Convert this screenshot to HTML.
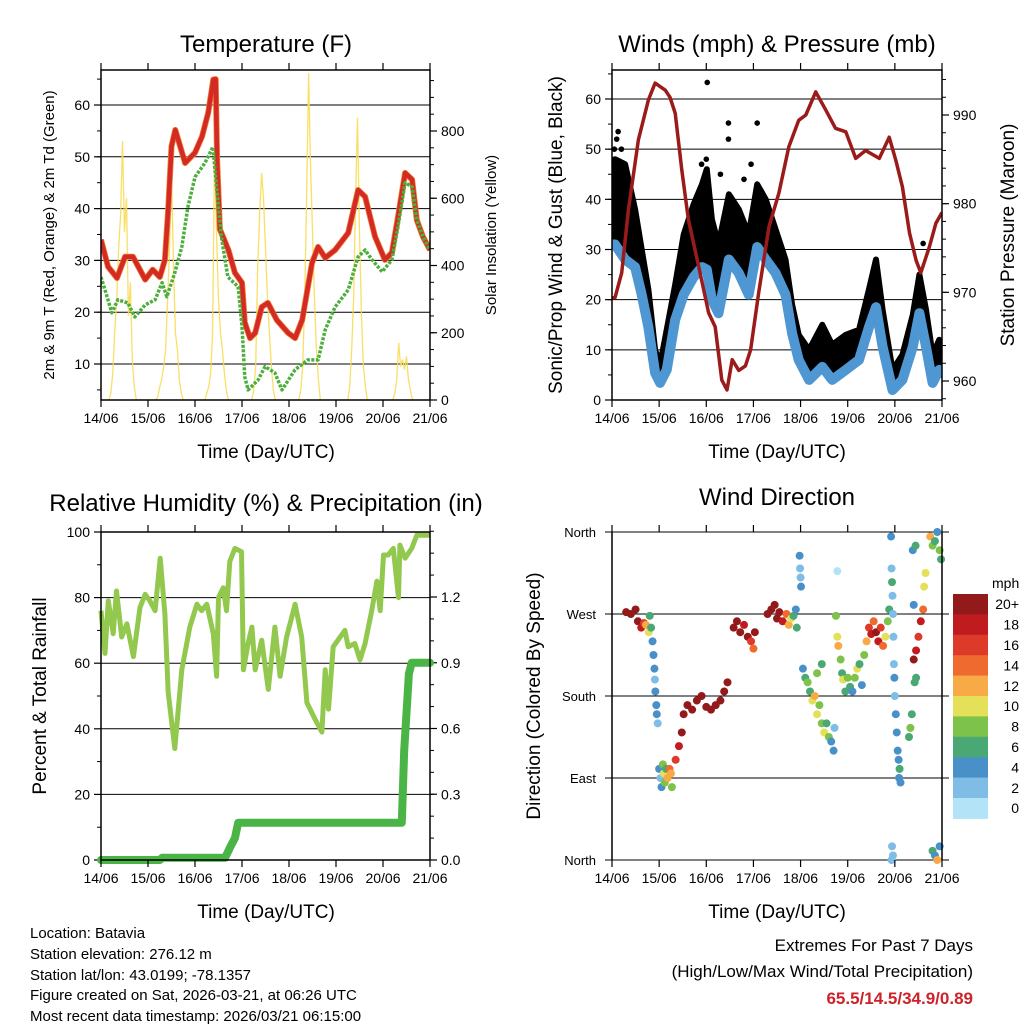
<!DOCTYPE html>
<html><head><meta charset="utf-8">
<style>
html,body{margin:0;padding:0;background:#fff;}
svg{display:block;font-family:"Liberation Sans",Arial,sans-serif;}
</style></head>
<body>
<svg id="fig" width="1024" height="1024" viewBox="0 0 1024 1024" xmlns="http://www.w3.org/2000/svg">
<rect width="1024" height="1024" fill="#fff"/>
<g id="g1"></g>
<g id="g2"></g>
<g id="g3"></g>
<g id="g4"></g>
<text x="266" y="52" font-size="24" text-anchor="middle">Temperature (F)</text>
<text x="777" y="52" font-size="24" text-anchor="middle">Winds (mph) &amp; Pressure (mb)</text>
<text x="266" y="511" font-size="24" text-anchor="middle">Relative Humidity (%) &amp; Precipitation (in)</text>
<text x="777" y="505" font-size="24" text-anchor="middle">Wind Direction</text>
<text x="266" y="458" font-size="19" text-anchor="middle">Time (Day/UTC)</text>
<text x="777" y="458" font-size="19" text-anchor="middle">Time (Day/UTC)</text>
<text x="266" y="918" font-size="19" text-anchor="middle">Time (Day/UTC)</text>
<text x="777" y="918" font-size="19" text-anchor="middle">Time (Day/UTC)</text>
<text transform="translate(54,235) rotate(-90)" font-size="15" text-anchor="middle">2m &amp; 9m T (Red, Orange) &amp; 2m Td (Green)</text>
<text transform="translate(496,235) rotate(-90)" font-size="15" text-anchor="middle">Solar Insolation (Yellow)</text>
<text transform="translate(562,235) rotate(-90)" font-size="19" text-anchor="middle">Sonic/Prop Wind &amp; Gust (Blue, Black)</text>
<text transform="translate(1014,235) rotate(-90)" font-size="19" text-anchor="middle">Station Pressure (Maroon)</text>
<text transform="translate(46,696) rotate(-90)" font-size="19" text-anchor="middle">Percent &amp; Total Rainfall</text>
<text transform="translate(540,696) rotate(-90)" font-size="19" text-anchor="middle">Direction (Colored By Speed)</text>
<g font-size="15">
<text x="30" y="938">Location: Batavia</text>
<text x="30" y="959">Station elevation: 276.12 m</text>
<text x="30" y="980">Station lat/lon: 43.0199; -78.1357</text>
<text x="30" y="1000">Figure created on Sat, 2026-03-21, at 06:26 UTC</text>
<text x="30" y="1021">Most recent data timestamp: 2026/03/21 06:15:00</text>
</g>
<g font-size="17" text-anchor="end">
<text x="973" y="951">Extremes For Past 7 Days</text>
<text x="973" y="977">(High/Low/Max Wind/Total Precipitation)</text>
<text x="973" y="1004" fill="#cc2229" font-weight="bold">65.5/14.5/34.9/0.89</text>
</g>
</svg>
<script>
const dayLabels=["14/06","15/06","16/06","17/06","18/06","19/06","20/06","21/06"];
// Temperature
const tempT=[0,0.15,0.34,0.51,0.68,0.94,1.1,1.25,1.36,1.43,1.5,1.58,1.79,2.0,2.15,2.28,2.39,2.44,2.47,2.53,2.71,2.85,3.0,3.06,3.17,3.28,3.42,3.55,3.74,3.98,4.13,4.28,4.49,4.62,4.77,4.98,5.26,5.47,5.62,5.83,6.04,6.19,6.32,6.47,6.62,6.72,6.85,7.0];
const tempV=[34,28.8,26.6,30.7,30.7,26.3,28.2,26.8,30.1,39.8,52,55.2,48.8,50.8,53.9,58.5,64.9,65,49.4,36,32,27.6,25.7,18,15,16,21,21.8,18.5,16,15,18.5,29.5,32.6,30.5,32,35.3,43.6,42.3,34.6,30.1,31.5,38.4,46.9,45.6,37.8,34.6,32];
const dewT=[0,0.15,0.23,0.36,0.57,0.72,0.94,1.15,1.3,1.4,1.57,1.72,1.85,2.0,2.21,2.38,2.47,2.57,2.7,2.92,3.0,3.06,3.13,3.34,3.49,3.7,3.85,4.13,4.4,4.62,4.77,4.98,5.26,5.47,5.62,5.77,5.98,6.19,6.32,6.47,6.62,6.72,6.85,7.0];
const dewV=[26.8,22.4,19.9,22.4,21.8,19.1,21.4,22.4,25.7,23,27.6,32.6,40.3,46.1,48.8,51.9,43,34,26.8,24.9,17.2,7.5,5,6.9,9.5,8.3,5,8.9,10.8,10.8,16.6,21,24.3,30.7,32,30.1,27.8,30.1,36.5,45,44.2,37.8,34.6,32];
// Solar, hourly per day
const solarDay0=[0,0,0,0,0,20,80,200,300,450,550,770,500,600,250,350,120,40,0,0,0,0,0,0];
const solarDay1=[0,0,0,0,0,10,40,60,100,150,300,450,675,400,200,150,60,20,0,0,0,0,0,0];
const solarDay2=[0,0,0,0,0,0,20,40,80,200,750,500,300,200,150,80,30,0,0,0,0,0,0,0];
const solarDay3=[0,0,0,0,0,0,30,100,400,550,675,600,450,300,200,100,30,0,0,0,0,0,0,0];
const solarDay4=[0,0,0,0,0,0,30,100,300,600,972,700,500,300,150,60,0,0,0,0,0,0,0,0];
const solarDay5=[0,0,0,0,0,0,0,40,150,300,600,840,500,250,100,40,0,0,0,0,0,0,0,0];
const solarDay6=[0,0,0,0,0,0,20,60,170,100,120,90,130,60,30,0,0,0,0,0,0,0,0,0];
// Winds
const windT=[0.0,0.064,0.277,0.49,0.631,0.773,0.915,1.02,1.16,1.34,1.52,1.73,1.91,2.01,2.12,2.26,2.48,2.69,2.9,3.08,3.26,3.47,3.68,3.82,3.96,4.18,4.46,4.67,4.96,5.24,5.45,5.6,5.74,5.95,6.16,6.38,6.52,6.66,6.8,6.94,7.0];
const gustV=[46,48,47,38,30,22,10,7,14,23,33,39,43,46,36,31,41,38,33,43,40,34,28,19,13,10,15,11,13,14,22,28,18,6,9,17,25,18,9,12,10];
const windV=[31,31,28,26.5,21,14.5,5.4,3.4,6,16,21,24.5,26.5,26,20,17.3,28,25.3,21,30.5,28,25.3,21,13.3,8,4,6.6,4,6,8,14.5,18.5,10.6,2,4,10.6,17.3,10.6,3.4,6,5];
const gustOutT=[0.13,2.02,2.47,2.47,3.08,2.0,6.6,0.2,1.9,2.3,2.8,2.95,0.05,0.1];
const gustOutV=[53.5,63.3,55.2,52,55.2,48,31.2,50,47,45,44,47,50,52];
const presT=[0.0,0.064,0.206,0.348,0.56,0.773,0.915,1.13,1.23,1.34,1.48,1.62,1.84,2.05,2.19,2.33,2.44,2.55,2.69,2.83,2.94,3.11,3.33,3.54,3.75,3.96,4.11,4.32,4.53,4.74,4.96,5.17,5.38,5.67,5.88,6.02,6.16,6.31,6.45,6.55,6.73,6.87,7.0];
const presV=[969.4,969.4,972.2,979.3,987.2,991.7,993.6,992.8,992,990.2,983.8,978.2,972.9,967.7,966.1,960.1,959,962.4,961.2,961.7,963.5,969.9,977.4,981.2,986.4,989.4,990,992.6,990.6,988.5,988.1,985.1,986,985.1,987.5,984.9,981.9,976.7,973.6,972.2,975.1,977.8,979];
// Humidity & precipitation
const rhT=[0,0.085,0.156,0.26,0.33,0.44,0.55,0.69,0.83,0.94,1.04,1.15,1.26,1.36,1.43,1.57,1.72,1.89,2.04,2.14,2.25,2.39,2.46,2.5,2.6,2.67,2.74,2.85,2.99,3.03,3.13,3.21,3.28,3.42,3.56,3.7,3.81,3.95,4.13,4.27,4.38,4.55,4.7,4.77,4.84,4.94,5.09,5.19,5.26,5.4,5.51,5.62,5.76,5.87,5.94,6.01,6.11,6.22,6.33,6.36,6.47,6.61,6.72,7.0];
const rhV=[76,63,79,69,82,68,72,62,77,81,79,76,92,75,51,34,58,71,78,76,78,69,56,80,83,76,91,95,94,58,66,71,58,67,52,71,56,68,78,68,48,43,39,58,46,65,68,70,65,66,61,66,76,85,76,93,93,95,80,96,92,95,99,99];
const precT=[0,1.25,1.3,2.64,2.75,2.85,2.92,6.4,6.45,6.55,6.61,7.0];
const precV=[0,0,0.01,0.01,0.06,0.1,0.17,0.17,0.5,0.85,0.9,0.9];
// Wind direction
const dirT=[0.3,0.4,0.5,0.55,0.62,0.68,0.72,0.78,0.8,0.83,0.86,0.88,0.9,0.91,0.92,0.94,0.95,0.97,1.0,1.03,1.05,1.08,1.1,1.12,1.15,1.18,1.22,1.25,1.27,1.35,1.42,1.48,1.52,1.6,1.7,1.8,1.9,2.0,2.1,2.2,2.3,2.38,2.45,2.58,2.65,2.72,2.8,2.88,2.95,3.0,3.03,3.3,3.38,3.45,3.5,3.55,3.62,3.7,3.75,3.8,3.85,3.9,3.92,3.98,3.99,4.0,4.01,4.05,4.1,4.15,4.2,4.25,4.3,4.35,4.4,4.45,4.5,4.55,4.6,4.65,4.7,4.72,4.35,4.45,4.75,4.78,4.8,4.85,4.88,4.9,4.95,4.78,5.0,5.05,5.1,5.15,5.2,5.25,5.3,5.35,5.4,5.45,5.5,5.55,5.6,5.65,5.7,5.75,5.8,5.85,5.88,5.92,5.93,5.94,5.95,5.96,5.97,5.98,5.99,6.0,6.02,6.04,6.06,6.08,6.09,6.1,6.12,5.93,5.94,5.96,6.3,6.33,6.36,6.4,6.45,6.5,6.55,6.6,6.62,6.65,6.45,6.4,6.38,6.42,6.44,6.75,6.8,6.85,6.9,6.95,6.98,6.8,6.85,6.9,6.95];
const dirDeg=[272,270,275,262,255,260,258,250,268,255,240,225,210,198,185,170,160,150,100,90,80,105,95,85,100,90,100,95,80,110,125,140,160,170,165,175,180,168,165,170,175,185,195,255,262,250,258,245,240,232,250,270,275,280,265,272,262,270,258,265,268,275,255,334,320,310,300,210,200,195,185,175,180,160,170,150,140,150,135,130,120,145,205,215,268,245,235,220,205,198,185,317,200,190,185,200,210,215,192,225,240,255,248,262,250,240,255,235,245,262,275,355,320,305,290,270,245,215,200,180,160,140,120,110,90,100,85,0,15,5,135,145,160,220,230,245,262,275,300,315,200,280,340,195,345,355,345,350,360,340,330,10,5,0,15];
const dirSpd=[20,20,20,19,18,16,12,10,6,6,4,4,3,2,4,4,4,2,4,2,4,8,10,8,6,12,14,12,8,16,18,20,20,20,20,20,20,20,20,20,20,20,20,20,20,20,18,20,16,14,20,20,20,20,20,20,18,14,12,10,6,4,6,4,2,2,4,4,6,8,6,10,12,10,8,8,10,6,8,4,4,2,8,6,8,10,12,8,6,10,6,0,8,6,4,8,10,6,4,8,12,16,18,14,20,18,16,14,10,8,6,4,2,6,2,2,2,2,4,2,4,4,4,4,4,6,4,2,2,2,6,8,6,20,18,16,18,14,10,10,6,4,4,6,6,12,8,6,4,8,6,6,4,12,4];
const spdColors=["#b3e3f7","#7fbce6","#4a90c8","#4aa874","#7dc24a","#e5e05a","#f7aa45","#ef6a2e","#dd3a2a","#c01c20","#931a1a"];
const spdLabels=["0","2","4","6","8","10","12","14","16","18","20+"];

const NS="http://www.w3.org/2000/svg";
function mk(parent,tag,attrs){const e=document.createElementNS(NS,tag);for(const k in attrs)e.setAttribute(k,attrs[k]);parent.appendChild(e);return e;}
function lin(d0,d1,r0,r1){return v=>r0+(v-d0)/(d1-d0)*(r1-r0);}
function pts(T,V,sx,sy){return T.map((t,i)=>sx(t).toFixed(1)+","+sy(V[i]).toFixed(1)).join(" ");}

function frame(g,L,R,T,B,sx){
  for(let d=0;d<=7;d++){
    const x=sx(d);
    const tk=mk(g,"line",{x1:x,x2:x,y1:B,y2:B+7,stroke:"#000","stroke-width":1.2});
    
    
    const tk2=mk(g,"line",{x1:x,x2:x,y1:T,y2:T-7,stroke:"#000","stroke-width":1.2});
    
    
    const lb=mk(g,"text",{x:x,y:B+23,"font-size":14,"text-anchor":"middle"});
    lb.textContent=dayLabels[d];
    
    
  }
}
function border(g,L,R,T,B){
  const r=mk(g,"rect",{x:L,y:T,width:R-L,height:B-T,fill:"none",stroke:"#000","stroke-width":1.5});
  
  
}
function yAxis(g,L,R,T,B,sy,ticks,labels,minor,side,grid){
  const x0=side==="left"?L:R, dir=side==="left"?-1:1;
  ticks.forEach((v,i)=>{
    const y=sy(v);
    if(grid){const gl=mk(g,"line",{x1:L,x2:R,y1:y,y2:y,stroke:"#000","stroke-width":1});
      
      }
    mk(g,"line",{x1:x0,x2:x0+dir*7,y1:y,y2:y,stroke:"#000","stroke-width":1.2});
    const t=mk(g,"text",{x:x0+dir*11,y:y+5,"font-size":14,"text-anchor":side==="left"?"end":"start"});
    t.textContent=labels[i];
    
    
  });
  minor.forEach(v=>{const y=sy(v);mk(g,"line",{x1:x0,x2:x0+dir*4,y1:y,y2:y,stroke:"#000","stroke-width":1});});
}
function range(a,b,s){const r=[];for(let v=a;v<=b+1e-9;v+=s)r.push(+v.toFixed(4));return r;}

// Panel 1
(function(){
  const g=document.getElementById("g1"),L=101,R=430,T=70,B=400;
  const sx=lin(0,7,L,R), sy=lin(10,60,364,105), sr=lin(0,800,400,131);
  const clip=mk(g,"clipPath",{id:"c1"});mk(clip,"rect",{x:L,y:T,width:R-L,height:B-T});
  const tks=[10,20,30,40,50,60];
  yAxis(g,L,R,T,B,sy,tks,tks.map(String),range(5,65,5),"left",true);
  yAxis(g,L,R,T,B,sr,[0,200,400,600,800],["0","200","400","600","800"],range(0,950,50),"right",false);
  const solar=[solarDay0,solarDay1,solarDay2,solarDay3,solarDay4,solarDay5,solarDay6].flat();
  const sT=solar.map((v,i)=>i/24);
  const dg=mk(g,"g",{"clip-path":"url(#c1)"});
  const s=mk(dg,"polyline",{points:pts(sT,solar,sx,sr),fill:"none",stroke:"#f7dc55","stroke-width":1.3,"stroke-opacity":0.9});
  
  
  const o=mk(dg,"polyline",{points:pts(tempT,tempV,sx,sy),fill:"none",stroke:"#f08030","stroke-width":6,"stroke-linejoin":"round"});
  
  
  const r=mk(dg,"polyline",{points:pts(tempT,tempV,sx,sy),fill:"none",stroke:"#d42a26","stroke-width":4.5,"stroke-linejoin":"round"});
  
  
  const d=mk(dg,"polyline",{points:pts(dewT,dewV,sx,sy),fill:"none",stroke:"#4caf3c","stroke-width":3.5,"stroke-dasharray":"3 1.5","stroke-linejoin":"round"});
  
  
  frame(g,L,R,T,B,sx);border(g,L,R,T,B);
})();

// Panel 2
(function(){
  const g=document.getElementById("g2"),L=612,R=942,T=70,B=400;
  const sx=lin(0,7,L,R), sy=lin(0,60,400,99), sp=lin(960,990,381,115);
  const clip=mk(g,"clipPath",{id:"c2"});mk(clip,"rect",{x:L,y:T,width:R-L,height:B-T});
  const tks=[0,10,20,30,40,50,60];
  yAxis(g,L,R,T,B,sy,tks,tks.map(String),range(5,65,5),"left",true);
  yAxis(g,L,R,T,B,sp,[960,970,980,990],["960","970","980","990"],range(958,995,2),"right",false);
  const dg=mk(g,"g",{"clip-path":"url(#c2)"});
  const top=windT.map((t,i)=>sx(t).toFixed(1)+","+sy(gustV[i]).toFixed(1));
  const bot=windT.map((t,i)=>sx(t).toFixed(1)+","+sy(windV[i]).toFixed(1)).reverse();
  const gu=mk(dg,"polygon",{points:top.concat(bot).join(" "),fill:"#000",stroke:"#000","stroke-width":6,"stroke-linejoin":"round"});
  
  
  gustOutT.forEach((t,i)=>{const c=mk(dg,"circle",{cx:sx(t),cy:sy(gustOutV[i]),r:2.8,fill:"#000"});
    
    });
  const w=mk(dg,"polyline",{points:pts(windT,windV,sx,sy),fill:"none",stroke:"#4f97d2","stroke-width":10,"stroke-linejoin":"round"});
  
  
  const p=mk(dg,"polyline",{points:pts(presT,presV,sx,sp),fill:"none",stroke:"#9b1b1b","stroke-width":3.5,"stroke-linejoin":"round"});
  
  
  frame(g,L,R,T,B,sx);border(g,L,R,T,B);
})();

// Panel 3
(function(){
  const g=document.getElementById("g3"),L=101,R=430,T=532,B=860;
  const sx=lin(0,7,L,R), sy=lin(0,100,860,532), sr=lin(0,1.2,860,597);
  const clip=mk(g,"clipPath",{id:"c3"});mk(clip,"rect",{x:L-4,y:T,width:R-L+8,height:B-T+4});
  const tks=[0,20,40,60,80,100];
  yAxis(g,L,R,T,B,sy,tks,tks.map(String),range(10,90,20),"left",true);
  yAxis(g,L,R,T,B,sr,[0,0.3,0.6,0.9,1.2],["0.0","0.3","0.6","0.9","1.2"],range(0,1.5,0.1),"right",false);
  const dg=mk(g,"g",{"clip-path":"url(#c3)"});
  const h=mk(dg,"polyline",{points:pts(rhT,rhV,sx,sy),fill:"none",stroke:"#92c84e","stroke-width":5,"stroke-linejoin":"round"});
  
  
  const pr=mk(dg,"polyline",{points:pts(precT,precV,sx,sr),fill:"none",stroke:"#4ab446","stroke-width":8,"stroke-linejoin":"round","stroke-linecap":"round"});
  
  
  frame(g,L,R,T,B,sx);border(g,L,R,T,B);
})();

// Panel 4
(function(){
  const g=document.getElementById("g4"),L=612,R=942,T=532,B=860;
  const sx=lin(0,7,L,R), sy=lin(0,360,860,532);
  const dt=[0,90,180,270,360], dl=["North","East","South","West","North"];
  dt.forEach((v,i)=>{const y=sy(v);
    const gl=mk(g,"line",{x1:L-7,x2:R+7,y1:y,y2:y,stroke:"#000","stroke-width":1});
    
    
    const t=mk(g,"text",{x:L-16,y:y+5,"font-size":13,"text-anchor":"end"});t.textContent=dl[i];
    
    });
  const dg=mk(g,"g",{});
  dirT.forEach((t,i)=>{
    const k=Math.min(10,Math.round(dirSpd[i]/2));
    const c=mk(dg,"circle",{cx:sx(t),cy:sy(dirDeg[i]),r:4,fill:spdColors[k]});
    
    
  });
  frame(g,L,R,T,B,sx);
  mk(g,"line",{x1:L,x2:L,y1:T,y2:B,stroke:"#000","stroke-width":1.5});
  mk(g,"line",{x1:R,x2:R,y1:T,y2:B,stroke:"#000","stroke-width":1.5});
  const cb=mk(g,"g",{});
  
  
  const cbT=594,cbH=20.4;
  const mt=mk(cb,"text",{x:992,y:588,"font-size":14});mt.textContent="mph";
  spdColors.slice().reverse().forEach((col,j)=>{
    const r=mk(cb,"rect",{x:953,y:cbT+j*cbH,width:35,height:cbH+0.5,fill:col});
    
    
    const t=mk(cb,"text",{x:1019,y:cbT+j*cbH+cbH/2+5,"font-size":14,"text-anchor":"end"});
    t.textContent=spdLabels[10-j];
    
    
  });
})();
</script>
</body></html>
